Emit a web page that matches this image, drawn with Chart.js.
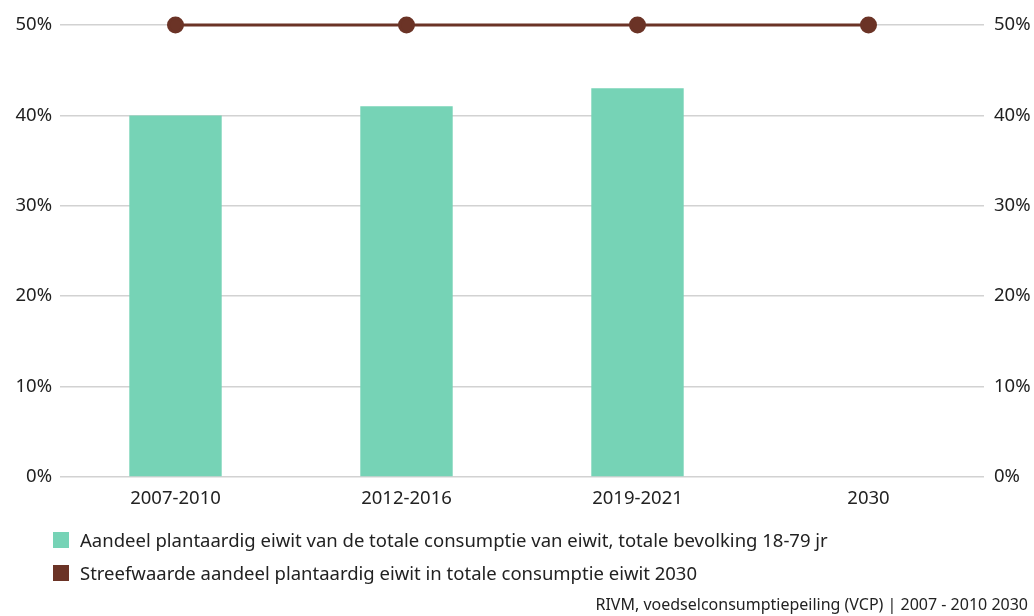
<!DOCTYPE html>
<html>
<head>
<meta charset="utf-8">
<script src="https://cdn.jsdelivr.net/npm/chart.js@4/dist/chart.umd.min.js"></script>
<style>
  html, body { margin: 0; padding: 0; background: #fff; }
  #wrap { position: relative; width: 1034px; height: 616px; font-family: "Noto Sans", sans-serif; color: #222; }
  canvas { position: absolute; left: 0; top: 0; }
  #legend { position: absolute; left: 53px; top: 523px; font-size: 18.5px; line-height: 33px; }
  .item { display: flex; align-items: center; white-space: nowrap; }
  .sw { width: 16px; height: 16px; margin-right: 11px; flex: none; }
  #source { position: absolute; right: 6px; top: 593px; font-size: 16px; white-space: nowrap; }
</style>
</head>
<body>
<div id="wrap">
  <canvas id="c" width="1034" height="616"></canvas>
  <div id="legend"></div>
  <div id="source"></div>
</div>
<script>
const categories = ["2007-2010", "2012-2016", "2019-2021", "2030"];
const plantShare = [40, 41, 43, null];
const target = [50, 50, 50, 50];
const yTicks = [0, 10, 20, 30, 40, 50];
const seriesLabels = [
  "Aandeel plantaardig eiwit van de totale consumptie van eiwit, totale bevolking 18-79 jr",
  "Streefwaarde aandeel plantaardig eiwit in totale consumptie eiwit 2030"
];
const sourceText = "RIVM, voedselconsumptiepeiling (VCP) | 2007 - 2010 2030";

const barColor = "#76d3b6";
const lineColor = "#6b3326";
const gridColor = "#d2d2d2";
const textColor = "#222";
const fontFamily = '"Noto Sans", sans-serif';

const tickFont = { family: fontFamily, size: 18.5 };

const ctx = document.getElementById('c').getContext('2d');
const chart = new Chart(ctx, {
  data: {
    labels: categories,
    datasets: [
      {
        type: 'line',
        label: seriesLabels[1],
        data: target,
        borderColor: lineColor,
        backgroundColor: lineColor,
        borderWidth: 3,
        pointRadius: 7,
        pointHoverRadius: 7,
        pointBackgroundColor: lineColor,
        pointBorderColor: lineColor,
        clip: false,
        yAxisID: 'y',
        order: 0
      },
      {
        type: 'bar',
        label: seriesLabels[0],
        data: plantShare,
        backgroundColor: barColor,
        barPercentage: 0.4,
        categoryPercentage: 1.0,
        yAxisID: 'y',
        order: 1
      }
    ]
  },
  options: {
    responsive: false,
    animation: false,
    layout: { padding: { top: 25, left: 0, right: 0, bottom: 0 } },
    plugins: { legend: { display: false }, tooltip: { enabled: false } },
    scales: {
      x: {
        grid: { display: false, drawTicks: false },
        border: { display: false },
        ticks: { color: textColor, font: tickFont, padding: 11 },
        afterFit: (s) => { s.height = 616 - 25 - 452; }
      },
      y: {
        position: 'left',
        min: 0, max: 50,
        afterBuildTicks: (s) => { s.ticks = yTicks.map(v => ({ value: v })); },
        grid: { color: gridColor, lineWidth: 1.5, drawTicks: false },
        border: { display: false },
        ticks: { color: textColor, font: tickFont, padding: 8, callback: (v) => v + '%' },
        afterFit: (s) => { s.width = 60; }
      },
      y1: {
        position: 'right',
        min: 0, max: 50,
        afterBuildTicks: (s) => { s.ticks = yTicks.map(v => ({ value: v })); },
        grid: { display: false, drawTicks: false },
        border: { display: false },
        ticks: { color: textColor, font: tickFont, padding: 10, callback: (v) => v + '%' },
        afterFit: (s) => { s.width = 50; }
      }
    }
  }
});

// HTML legend built from the dataset labels and colours
const legend = document.getElementById('legend');
[[seriesLabels[0], barColor], [seriesLabels[1], lineColor]].forEach(([t, c]) => {
  const d = document.createElement('div');
  d.className = 'item';
  const sw = document.createElement('span');
  sw.className = 'sw';
  sw.style.background = c;
  const tx = document.createElement('span');
  tx.textContent = t;
  d.appendChild(sw); d.appendChild(tx);
  legend.appendChild(d);
});
document.getElementById('source').textContent = sourceText;
</script>
</body>
</html>
